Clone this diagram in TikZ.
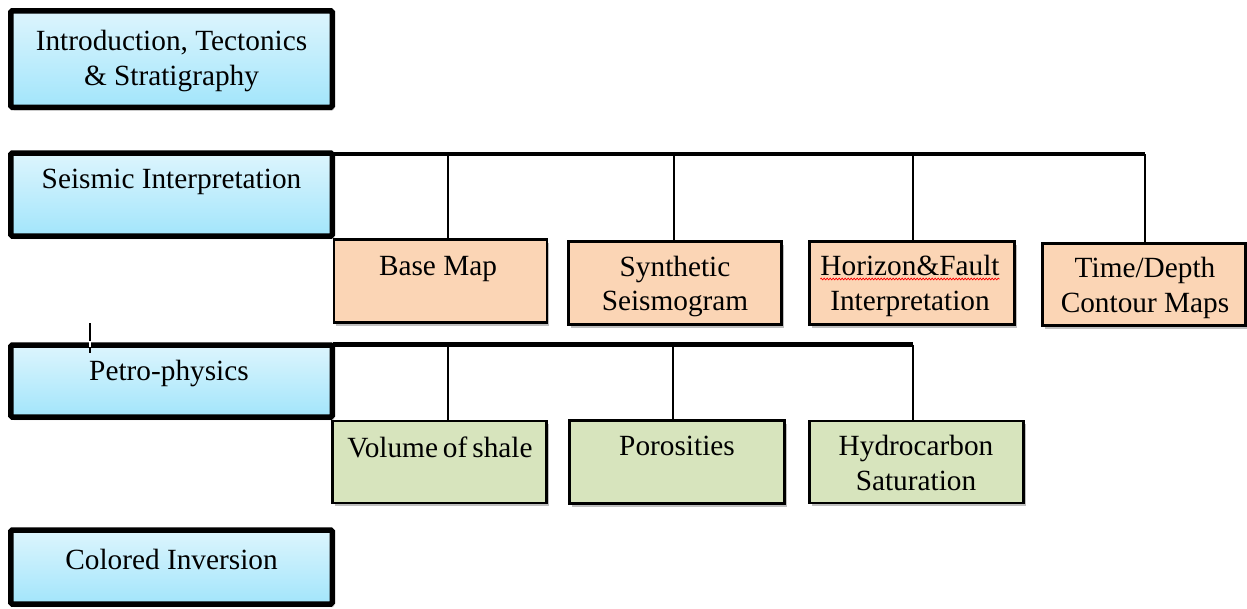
\documentclass[tikz,border=0pt]{standalone}
\usepackage{fontspec}
\setmainfont{Liberation Serif}
\usetikzlibrary{shadows,decorations.pathmorphing}
\definecolor{bluetop}{HTML}{DDF5FD}
\definecolor{bluebot}{HTML}{A2E5FB}
\definecolor{orangefill}{HTML}{FBD5B5}
\definecolor{greenfill}{HTML}{D7E4BD}
\begin{document}
\begin{tikzpicture}[x=1pt,y=-1pt,
  shade/.style={drop shadow={shadow xshift=2pt,shadow yshift=-3pt,opacity=0.25,fill=black}},
  topbox/.style={shape=rectangle,draw=black,line width=5.5pt,rounded corners=1.5pt,
    top color=bluetop,bottom color=bluebot,minimum width=321.5pt,inner sep=0pt,shade},
  subbox/.style={shape=rectangle,draw=black,line width=2.6pt,inner sep=0pt,shade},
  orangebox/.style={subbox,fill=orangefill},
  greenbox/.style={subbox,fill=greenfill},
  txt/.style={anchor=base,inner sep=0pt,font=\fontsize{29.3}{35}\selectfont},
  mainline/.style={draw=black,line width=4.2pt,line join=miter},
  branch/.style={draw=black,line width=2.8pt}]
\useasboundingbox (0,0) rectangle (1247,608);
\fill[white] (0,0) rectangle (1247,608);

% main (blue) boxes
\node[topbox,minimum height=96.5pt] (intro) at (171.5,59) {};
\node[topbox,minimum height=83pt] (seis) at (171.5,194.5) {};
\node[topbox,minimum height=72pt] (petro) at (171.5,381) {};
\node[topbox,minimum height=74pt] (color) at (171.5,567) {};

% seismic sub boxes
\node[orangebox,minimum width=213pt,minimum height=83pt] (bm) at (440.5,281) {};
\node[orangebox,minimum width=213pt,minimum height=83pt] (syn) at (675,283) {};
\node[orangebox,minimum width=205pt,minimum height=83pt] (hf) at (912,283) {};
\node[orangebox,minimum width=203pt,minimum height=82pt] (td) at (1144,284.5) {};

% petro sub boxes
\node[greenbox,minimum width=214pt,minimum height=82pt] (vs) at (439.5,462) {};
\node[greenbox,minimum width=215pt,minimum height=83pt] (por) at (677,462) {};
\node[greenbox,minimum width=214pt,minimum height=82pt] (hc) at (916.5,462) {};

% texts
\node[txt] (intro1) at (171.5,50) {Introduction, Tectonics};
\node[txt] (intro2) at (171.5,85) {\& Stratigraphy};
\node[txt] (seisT) at (171.5,188) {Seismic Interpretation};
\node[txt] (petroT) at (169,380) {Petro-physics};
\node[txt] (colorT) at (171.5,569) {Colored Inversion};
\node[txt] (bmT) at (438,275) {Base Map};
\node[txt] (syn1) at (675,276) {Synthetic};
\node[txt] (syn2) at (675,310) {Seismogram};
\node[txt] (hf1) at (910,275) {Horizon\&Fault};
\node[txt] (hf2) at (910,310) {Interpretation};
\node[txt] (td1) at (1145,277) {Time/Depth};
\node[txt] (td2) at (1145,312) {Contour Maps};
\node[txt] (vsT) at (440,457) {Volume\hspace{5pt}of\hspace{5pt}shale};
\node[txt] (porT) at (677,455) {Porosities};
\node[txt] (hc1) at (916,455) {Hydrocarbon};
\node[txt] (hc2) at (916,490) {Saturation};

% spell-check squiggle
\draw[red,line width=0.7pt,decorate,decoration={snake,amplitude=0.8pt,segment length=3pt}]
  ([yshift=-4pt]hf1.base west) -- ([yshift=-4pt]hf1.base east);

% seismic connectors
\coordinate (sj) at (333,154);
\coordinate (s1) at (448,154);
\coordinate (s2) at (674,154);
\coordinate (s3) at (913,154);
\coordinate (s4) at (1145,154);
\draw[mainline] (sj) -- (s4);
\draw[branch] (s1) -- (s1 |- bm.north);
\draw[branch] (s2) -- (s2 |- syn.north);
\draw[branch] (s3) -- (s3 |- hf.north);
\draw[branch] (s4) -- (s4 |- td.north);

% petro connectors
\coordinate (pj) at (333,344.5);
\coordinate (p1) at (448,344.5);
\coordinate (p2) at (673,344.5);
\coordinate (p3) at (913,344.5);
\draw[mainline] (pj) -- (p3);
\draw[branch] (p1) -- (p1 |- vs.north);
\draw[branch] (p2) -- (p2 |- por.north);
\draw[branch] (p3) -- (p3 |- hc.north);

% text cursor mark
\draw[line width=1.5pt] (90,323) -- (90,341);
\draw[white,line width=1.5pt] (90,341) -- (90,347);
\draw[line width=1.5pt] (90,347) -- (90,353);
\end{tikzpicture}
\end{document}
